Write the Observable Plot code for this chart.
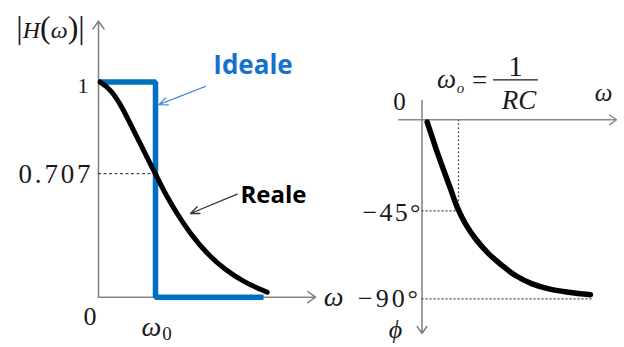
<!DOCTYPE html>
<html>
<head>
<meta charset="utf-8">
<script src="https://cdn.jsdelivr.net/npm/d3@7"></script>
<script src="https://cdn.jsdelivr.net/npm/@observablehq/plot@0.6"></script>
<style>
  html, body { margin: 0; padding: 0; background: #fff; }
  #wrap { position: relative; width: 624px; height: 347px; overflow: hidden; }
  #wrap svg { position: absolute; left: 0; top: 0; }
</style>
</head>
<body>
<div id="wrap"></div>
<script>
// ---------- data ----------
// Left panel: |H(ω)| (curve in drawn units, ω in units of ω0)
const omegaReal = [0.03, 0.211, 0.386, 0.561, 0.737, 0.912, 1.03, 1.205, 1.381, 1.614, 1.907, 2.198, 2.549, 2.96];
const magReal   = [1.0, 0.966, 0.897, 0.804, 0.711, 0.618, 0.556, 0.464, 0.387, 0.294, 0.201, 0.132, 0.070, 0.023];
const omegaIdeal = [0, 1, 1, 2.895];
const magIdeal   = [1, 1, 0, 0];
const magTicks = [0.574, 1];
const magTickLabels = ["0.707", "1"];

// Right panel: phase φ(ω)
const omegaPhase = [0.142, 0.279, 0.416, 0.597, 0.781, 0.964, 1.192, 1.466, 1.83, 2.197, 2.562, 3.019, 3.474, 4.022, 4.616];
const phase      = [-1.2, -8.7, -16.3, -25.5, -34.7, -43.9, -52.3, -59.8, -67.4, -73.3, -78.3, -82.5, -85.0, -86.7, -88.0];
const phaseTicks = [-45, -90];
const phaseTickLabels = ["\u221245\u00b0", "\u221290\u00b0"];

const realData  = omegaReal.map((w, i) => ({w, m: magReal[i]}));
const idealData = omegaIdeal.map((w, i) => ({w, m: magIdeal[i]}));
const phaseData = omegaPhase.map((w, i) => ({w, p: phase[i]}));

const SERIF = "'Liberation Serif', 'Times New Roman', serif";
const SANS = "'Open Sans', 'DejaVu Sans', sans-serif";
const BLUE = "#0070c0";
const AX = "#858585";

const lab = (s, x, y, o) => Plot.text([s], {x, y, text: d => d, lineAnchor: "bottom", fontFamily: SERIF, fill: "#1a1a1a", ...o});

// ---------- left panel ----------
const left = Plot.plot({
  width: 624, height: 347,
  marginLeft: 98, marginRight: 469, marginTop: 81.5, marginBottom: 50.3,
  x: {domain: [0, 1], axis: null},
  y: {domain: [0, 1], axis: null},
  style: {background: "transparent"},
  marks: [
    Plot.arrow([0], {x1: 0, y1: 0, x2: 0, y2: 1.283, stroke: AX, strokeWidth: 1.6, headLength: 9, headAngle: 70}),
    Plot.arrow([0], {x1: 0, y1: 0, x2: 3.81, y2: 0, stroke: AX, strokeWidth: 1.6, headLength: 9, headAngle: 70}),
    Plot.ruleY([magTicks[0]], {x1: 0, x2: 1, stroke: "#222", strokeWidth: 1, strokeDasharray: "3,2.5"}),
    Plot.line(idealData, {x: "w", y: "m", stroke: BLUE, strokeWidth: 5.5, strokeLinejoin: "miter", strokeLinecap: "butt"}),
    Plot.line(realData, {x: "w", y: "m", curve: "basis", stroke: "#000", strokeWidth: 5, strokeLinecap: "round"}),
    // tick labels
    Plot.text([magTicks[1]], {x: 0, y: d => d, text: () => magTickLabels[1], lineAnchor: "bottom", textAnchor: "end", dx: -10, dy: 10.5, fontSize: 22, fontFamily: SERIF, fill: "#1a1a1a"}),
    Plot.text([magTicks[0]], {x: 0, y: d => d, text: () => magTickLabels[0], lineAnchor: "bottom", textAnchor: "end", dx: -8, dy: 9.7, fontSize: 27, fontFamily: SERIF, fill: "#1a1a1a", className: "t0707"}),
    lab("0", 0, 0, {dx: -8.5, dy: 27.3, fontSize: 26}),
    lab("\u03c9", 1, 0, {dx: -4, dy: 38.3, fontSize: 28, fontStyle: "italic"}),
    lab("0", 1, 0, {dx: 11.5, dy: 42.5, fontSize: 19}),
    lab("\u03c9", 3.81, 0, {dx: 18, dy: 8.3, fontSize: 28, fontStyle: "italic"}),
    lab("|H(\u03c9)|", 0, 1.283, {dx: -48, dy: 17, fontSize: 24, className: "hlab"}),
    // annotations
    lab("Ideale", 1, 1, {dx: 97.5, dy: -8.5, fontSize: 26, fontFamily: SANS, fontWeight: "bold", fill: "#1570cf"}),
    Plot.arrow([0], {x1: 1.877, y1: 0.98, x2: 1.058, y2: 0.895, stroke: "#4a8fd6", strokeWidth: 1.3, headLength: 11, headAngle: 45}),
    lab("Reale", 1, 0.574, {dx: 118, dy: 29, fontSize: 24, fontFamily: SANS, fontWeight: "bold", fill: "#000"}),
    Plot.arrow([0], {x1: 2.433, y1: 0.479, x2: 1.614, y2: 0.389, stroke: "#333", strokeWidth: 1.3, headLength: 11, headAngle: 45})
  ]
});

// ---------- right panel ----------
const right = Plot.plot({
  width: 624, height: 347,
  marginLeft: 421.5, marginRight: 166, marginTop: 119.3, marginBottom: 48.7,
  x: {domain: [0, 1], axis: null},
  y: {domain: [-90, 0], axis: null},
  style: {background: "transparent"},
  marks: [
    Plot.arrow([0], {x1: 0, y1: 9.7, x2: 0, y2: -107.4, stroke: "#777", strokeWidth: 1.4, headLength: 9, headAngle: 70}),
    Plot.arrow([0], {x1: -0.64, y1: 0, x2: 5.33, y2: 0, stroke: "#888", strokeWidth: 1.4, headLength: 9, headAngle: 70}),
    Plot.ruleX([1], {y1: 0, y2: -46, stroke: "#555", strokeWidth: 1.3, strokeDasharray: "2,2"}),
    Plot.ruleY([phaseTicks[0]], {x1: 0, x2: 1, dy: 1.5, stroke: "#444", strokeWidth: 1.3, strokeDasharray: "2,2"}),
    Plot.ruleY([phaseTicks[1]], {x1: 0, x2: 4.67, stroke: "#444", strokeWidth: 1.3, strokeDasharray: "2,2"}),
    Plot.line(phaseData, {x: "w", y: "p", curve: "catmull-rom", stroke: "#000", strokeWidth: 5.5, strokeLinecap: "round"}),
    Plot.text([phaseTicks[0]], {x: 0, y: d => d, text: () => phaseTickLabels[0], lineAnchor: "bottom", textAnchor: "end", dx: -1.5, dy: 11.5, fontSize: 26, fontFamily: SERIF, fill: "#1a1a1a", className: "t45"}),
    Plot.text([phaseTicks[1]], {x: 0, y: d => d, text: () => phaseTickLabels[1], lineAnchor: "bottom", textAnchor: "end", dx: -4, dy: 7.7, fontSize: 26, fontFamily: SERIF, fill: "#1a1a1a", className: "t90"}),
    lab("0", 0, 0, {dx: -22.5, dy: -10, fontSize: 25}),
    lab("\u03c9", 5.33, 0, {dx: -13, dy: -19.3, fontSize: 25, fontStyle: "italic"}),
    lab("\u03d5", 0, -107.4, {dx: -26.5, dy: 5, fontSize: 26, fontStyle: "italic"}),
    // ω0 = 1/RC
    lab("\u03c9", 1, 0, {dx: -12, dy: -32.3, fontSize: 27, fontStyle: "italic"}),
    lab("o", 1, 0, {dx: 2, dy: -27.3, fontSize: 15, fontStyle: "italic"}),
    lab("=", 1, 0, {dx: 21, dy: -31.3, fontSize: 27}),
    Plot.ruleY([0], {x1: 1.959, x2: 3.19, dy: -40, stroke: "#1a1a1a", strokeWidth: 1.3}),
    lab("1", 1, 0, {dx: 57, dy: -44.3, fontSize: 29}),
    lab("RC", 1, 0, {dx: 60.5, dy: -11.3, fontSize: 27, fontStyle: "italic"})
  ]
});

const wrap = document.getElementById("wrap");
wrap.appendChild(left);
wrap.appendChild(right);

// rich text for |H(ω)|
d3.select(left).select("g.hlab text").each(function () {
  const t = d3.select(this);
  t.text(null);
  t.append("tspan").attr("font-size", 32).attr("font-style", "normal").text("|");
  t.append("tspan").attr("font-style", "italic").text("H");
  t.append("tspan").attr("font-size", 32).text("(");
  t.append("tspan").attr("font-style", "italic").text("\u03c9");
  t.append("tspan").attr("font-size", 32).text(")");
  t.append("tspan").attr("font-size", 32).text("|");
});
// widen the spaced math labels to the widths seen in the picture
d3.select(left).select("g.t0707 text").attr("textLength", 72).attr("lengthAdjust", "spacing");
d3.select(right).select("g.t45 text").attr("textLength", 58).attr("lengthAdjust", "spacing");
d3.select(right).select("g.t90 text").attr("textLength", 60).attr("lengthAdjust", "spacing");
</script>
</body>
</html>
